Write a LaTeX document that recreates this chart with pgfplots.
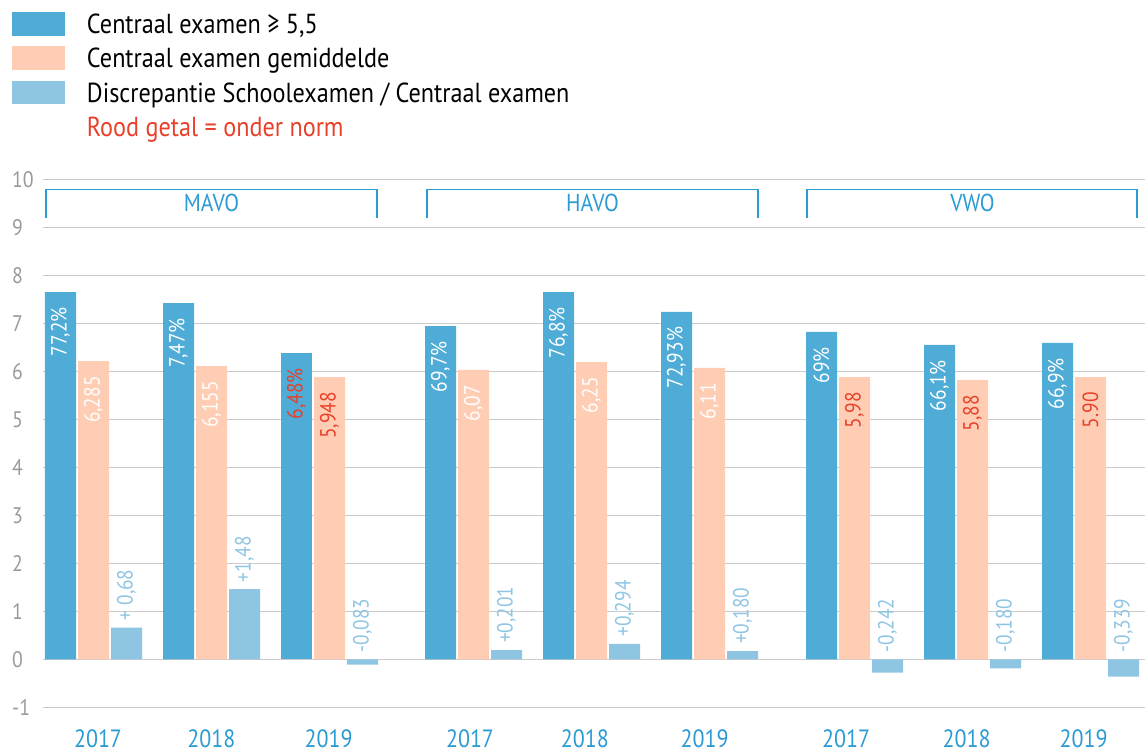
\documentclass[border=0pt]{standalone}
\usepackage{pgfplots}
\pgfplotsset{compat=1.18}
\usepackage{fontspec}
\setmainfont{PT Sans}[FakeStretch=0.88]
\definecolor{cDark}{HTML}{4EACD6}
\definecolor{cSalmon}{HTML}{FFCDB3}
\definecolor{cLight}{HTML}{8EC5E3}
\definecolor{cRed}{HTML}{E8402A}
\definecolor{cBlue}{HTML}{2A9BD3}
\definecolor{cGrid}{HTML}{CBCBCB}
\definecolor{cTick}{HTML}{9A9A9A}
\newcommand\legfont{\fontsize{27.5}{32}\selectfont}
\newcommand\barfont{\fontsize{22}{26}\selectfont}
\newcommand\yearfont{\fontsize{25}{29}\selectfont}
\newcommand\tickfont{\fontsize{22.5}{26}\selectfont}
\newcommand\grpfont{\fontsize{24.5}{28}\selectfont}
\pgfplotsset{
  legDark/.style={legend image code/.code={\fill[cDark] (0pt,-11.85pt) rectangle (53pt,11.85pt);}},
  legSalmon/.style={legend image code/.code={\fill[cSalmon] (0pt,-11.85pt) rectangle (53pt,11.85pt);}},
  legLight/.style={legend image code/.code={\fill[cLight] (0pt,-11.85pt) rectangle (53pt,11.85pt);}},
  mybar/.style={ybar, bar width=31, bar shift=0pt, draw=none, fill=#1},
  inlab/.style={nodes near coords, point meta=explicit symbolic,
    every node near coord/.append style={rotate=90, anchor=east, inner xsep=15pt, inner ysep=0pt, font=\barfont, text=#1}},
  uplab/.style={nodes near coords, point meta=explicit symbolic,
    every node near coord/.append style={rotate=90, anchor=west, inner xsep=7pt, inner ysep=0pt, font=\barfont, text=cLight}},
}
\begin{document}
\begin{tikzpicture}
\useasboundingbox (-43pt,-43.7pt) rectangle (1102pt,707.3pt);
\begin{axis}[
  at={(0pt,0pt)}, anchor=south west,
  x=1pt, y=48pt,
  xmin=43, xmax=1145, ymin=-1, ymax=10,
  axis line style={draw=none},
  major tick length=0pt,
  ytick={-1,0,1,2,3,4,5,6,7,8,9,10},
  yticklabels={-1,0,1,2,3,4,5,6,7,8,9,10},
  yticklabel style={anchor=west, xshift=-31pt, inner sep=0pt, font=\tickfont, text=cTick},
  ymajorgrids, grid style={cGrid, line width=1.2pt},
  xtick={98,211.3,328.7,470,584.8,704.7,846,966.5,1083.7},
  xticklabels={2017,2018,2019,2017,2018,2019,2017,2018,2019},
  xticklabel style={anchor=north, yshift=-22pt, inner sep=0pt, font=\yearfont, text=cBlue},
  clip=false,
  legend cell align=left,
  legend style={at={(-0.02813,1.32699)}, anchor=north west, draw=none, fill=none,
    inner sep=0pt, outer sep=0pt, column sep=22pt, row sep=0pt, font=\legfont,
    nodes={inner sep=0pt, text height=26.6pt, text depth=7.8pt}},
]
% Centraal examen >= 5,5 (scaled to 10)
\addplot[mybar=cDark, legDark, inlab=white] coordinates {
  (60.5,7.65) [77,2\%]
  (178.5,7.42) [7,47\%]
  (440.5,6.94) [69,7\%]
  (558.5,7.65) [76,8\%]
  (676.5,7.24) [72,93\%]
  (821.5,6.82) [69\%]
  (939.5,6.55) [66,1\%]
  (1057.5,6.59) [66,9\%]
};
\addlegendentry{Centraal examen ≥ 5,5}
% Centraal examen gemiddelde
\addplot[mybar=cSalmon, legSalmon, inlab=white] coordinates {
  (93.5,6.21) [6,285]
  (211.5,6.11) [6,155]
  (473.5,6.03) [6,07]
  (591.5,6.19) [6,25]
  (709.5,6.07) [6,11]
};
\addlegendentry{Centraal examen gemiddelde}
% Discrepantie SE / CE
\addplot[mybar=cLight, legLight] coordinates {
  (126.5,0.66) (244.5,1.46) (362.5,-0.11)
  (506.5,0.19) (624.5,0.32) (742.5,0.17)
  (887.5,-0.28) (1005.5,-0.19) (1123.5,-0.36)
};
\addlegendentry{Discrepantie Schoolexamen / Centraal examen}
\addlegendimage{empty legend}
\addlegendentry{\textcolor{cRed}{Rood getal = onder norm}}
% values under norm (red labels)
\addplot[mybar=cDark, inlab=cRed, forget plot] coordinates {
  (296.5,6.38) [6,48\%]
};
\addplot[mybar=cSalmon, inlab=cRed, forget plot] coordinates {
  (329.5,5.88) [5,948]
  (854.5,5.88) [5,98]
  (972.5,5.82) [5,88]
  (1090.5,5.88) [5.90]
};
% labels of discrepancy bars
\addplot[draw=none, mark=none, forget plot, uplab] coordinates {
  (126.5,0.66) [+ 0,68]
  (244.5,1.46) [+1,48]
  (362.5,0) [-0,083]
  (506.5,0.19) [+0,201]
  (624.5,0.32) [+0,294]
  (742.5,0.17) [+0,180]
  (887.5,0) [-0,242]
  (1005.5,0) [-0,180]
  (1123.5,0) [-0,339]
};
% group brackets
\draw[cBlue, line width=1.3pt] (axis cs:46,9.19) |- (axis cs:377,9.79) -- (axis cs:377,9.19);
\draw[cBlue, line width=1.3pt] (axis cs:427,9.19) |- (axis cs:758,9.79) -- (axis cs:758,9.19);
\draw[cBlue, line width=1.3pt] (axis cs:807,9.19) |- (axis cs:1137,9.79) -- (axis cs:1137,9.19);
\node[text=cBlue, font=\grpfont, inner sep=0pt] at (axis cs:211.5,9.51) {MAVO};
\node[text=cBlue, font=\grpfont, inner sep=0pt] at (axis cs:592.5,9.51) {HAVO};
\node[text=cBlue, font=\grpfont, inner sep=0pt] at (axis cs:972.5,9.51) {VWO};
\end{axis}
\end{tikzpicture}
\end{document}
